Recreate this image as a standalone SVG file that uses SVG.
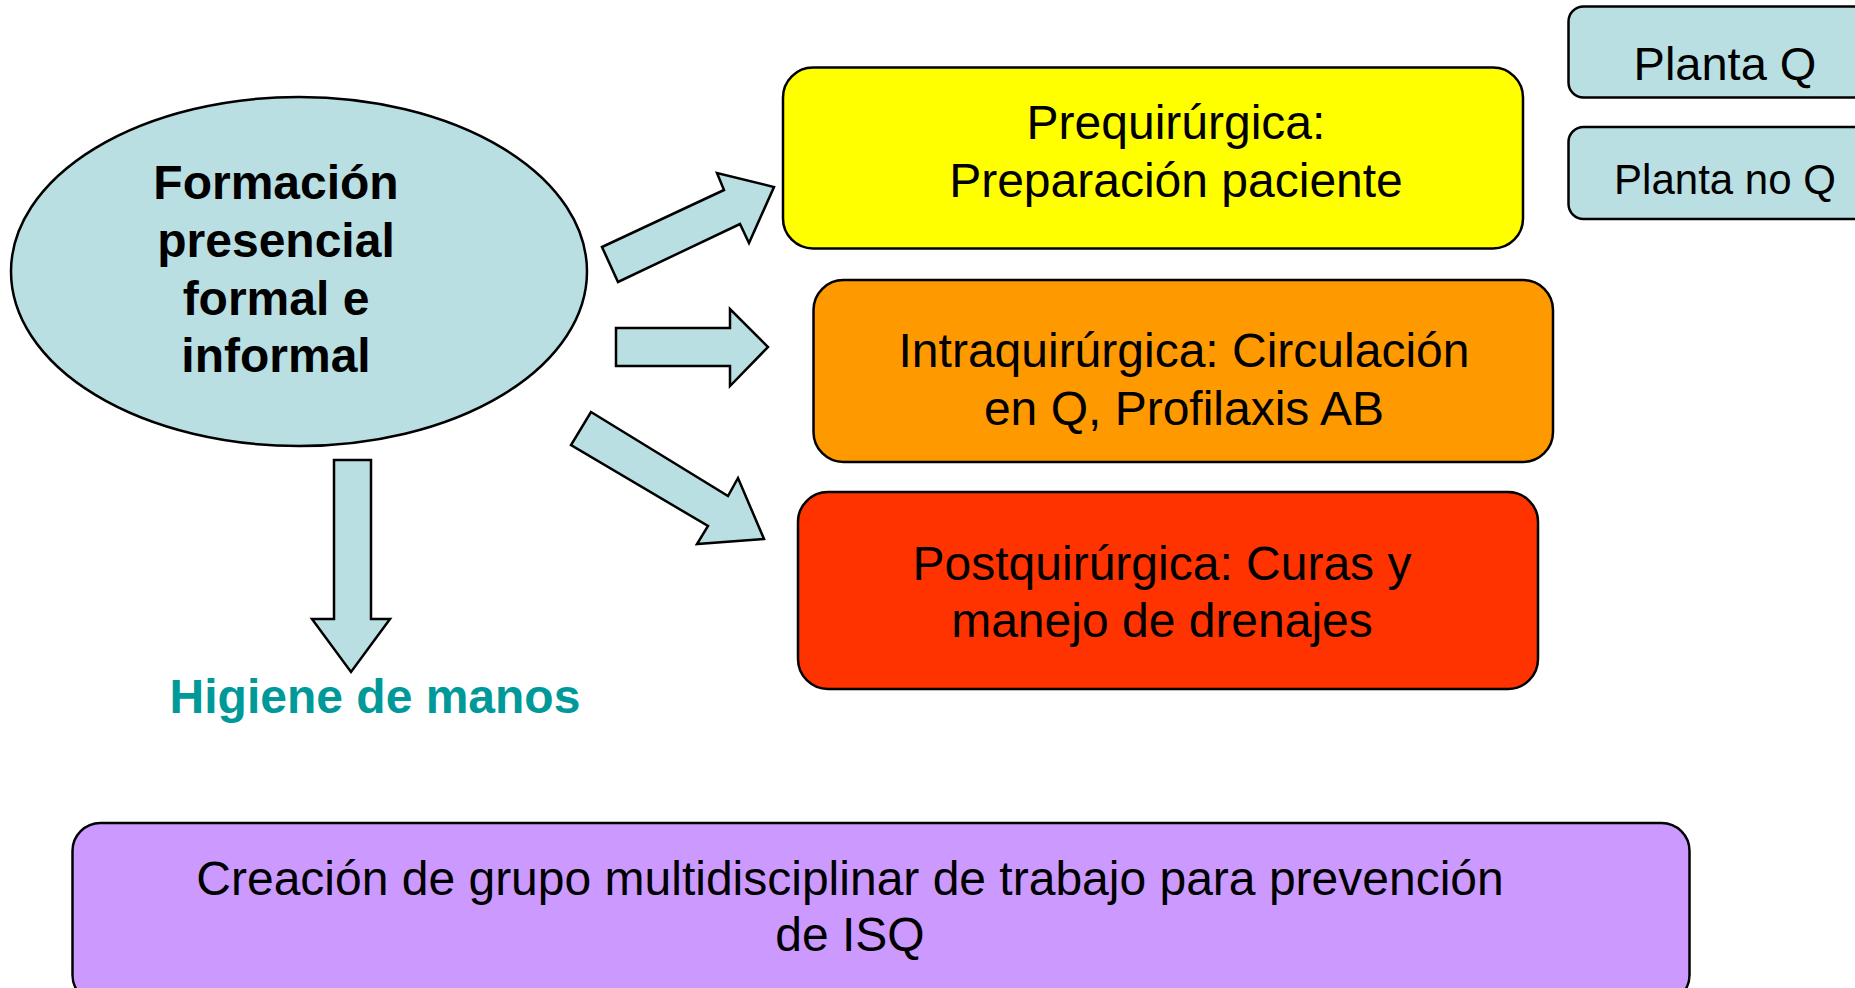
<svg xmlns="http://www.w3.org/2000/svg" width="1855" height="988" viewBox="0 0 1855 988">
<style>
.t{font-family:"Liberation Sans",Arial,sans-serif;fill:#000;text-anchor:middle}
.b{font-weight:bold}
.box{stroke:#000;stroke-width:2.5}
.arr{fill:#B9DFE3;stroke:#000;stroke-width:2.5;stroke-linejoin:miter}
</style>
<rect width="1855" height="988" fill="#fff"/>
<g id="formacion">
<ellipse cx="299" cy="271.5" rx="288" ry="174.5" fill="#B9DFE3" class="box"/>
<text class="t b" font-size="48" x="276" y="199">Formación</text>
<text class="t b" font-size="48" x="276" y="257">presencial</text>
<text class="t b" font-size="48" x="276" y="315">formal e</text>
<text class="t b" font-size="48" x="276" y="372">informal</text>
</g>
<g id="prequirurgica">
<rect x="783" y="67.5" width="740" height="181" rx="30" fill="#FFFF00" class="box"/>
<text class="t" font-size="48" x="1176" y="139">Prequirúrgica:</text>
<text class="t" font-size="48" x="1176" y="197">Preparación paciente</text>
</g>
<g id="intraquirurgica">
<rect x="813.5" y="280" width="739.5" height="182" rx="30" fill="#FF9900" class="box"/>
<text class="t" font-size="48" x="1184" y="367">Intraquirúrgica: Circulación</text>
<text class="t" font-size="48" x="1184" y="425">en Q, Profilaxis AB</text>
</g>
<g id="postquirurgica">
<rect x="798" y="492" width="740" height="197" rx="30" fill="#FF3300" class="box"/>
<text class="t" font-size="48" x="1162" y="580">Postquirúrgica: Curas y</text>
<text class="t" font-size="48" x="1162" y="637">manejo de drenajes</text>
</g>
<g id="planta-q">
<rect x="1568.5" y="6.5" width="320" height="91" rx="15" fill="#B9DFE3" class="box"/>
<text class="t" font-size="47" x="1725" y="80">Planta Q</text>
</g>
<g id="planta-no-q">
<rect x="1568.5" y="127" width="320" height="92" rx="15" fill="#B9DFE3" class="box"/>
<text class="t" font-size="42" x="1725" y="194">Planta no Q</text>
</g>
<g id="higiene">
<text class="t b" font-size="48" x="375" y="713" style="fill:#009999">Higiene de manos</text>
</g>
<g id="grupo">
<rect x="72.5" y="823" width="1617" height="180" rx="28" fill="#CC99FF" class="box"/>
<text class="t" font-size="48" x="850" y="895">Creación de grupo multidisciplinar de trabajo para prevención</text>
<text class="t" font-size="48" x="850" y="951">de ISQ</text>
</g>
<g id="connectors">
<polygon class="arr" points="602,247 724,190 717,173 774,187 749,243 740,224 618,282"/>
<polygon class="arr" points="616,328 730,328 730,309 768,347 730,386 730,366 616,366"/>
<polygon class="arr" points="591,412 728,496 738,478 764,539 697,544 708,526 571,445"/>
<polygon class="arr" points="334,460 371,460 371,619 390,619 351,672 312,619 334,619"/>
</g>
</svg>
